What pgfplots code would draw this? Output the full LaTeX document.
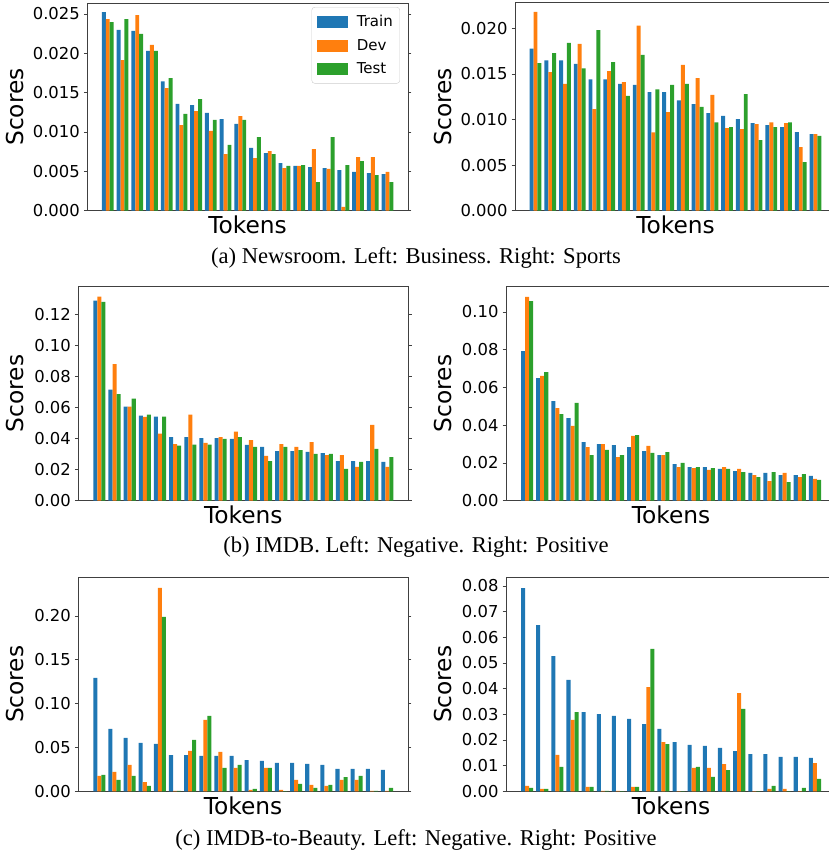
\documentclass[border=0pt]{standalone}
\usepackage{fontspec}
\setmainfont{DejaVu Sans}
\newfontfamily\capfont{Liberation Serif}
\usepackage{pgfplots}
\usepackage{pgfplotstable}
\pgfplotsset{compat=1.18}

\definecolor{tabblue}{HTML}{1F77B4}
\definecolor{taborange}{HTML}{FF7F0E}
\definecolor{tabgreen}{HTML}{2CA02C}

\newcommand\tickfont{\fontsize{16.4}{19}\selectfont}
\newcommand\labfont{\fontsize{23.3}{27}\selectfont}
\newcommand\legfont{\fontsize{15}{18}\selectfont}

% Newsroom, Business
\pgfplotstableread{
x train dev test
0 0.02525 0.02436 0.02398
1 0.02297 0.01915 0.02436
2 0.02284 0.02487 0.02246
3 0.02030 0.02106 0.02030
4 0.01644 0.01559 0.01686
5 0.01356 0.01089 0.01229
6 0.01343 0.01267 0.01419
7 0.01242 0.01013 0.01153
8 0.01165 0.00720 0.00835
9 0.01102 0.01203 0.01153
10 0.00797 0.00669 0.00936
11 0.00733 0.00758 0.00720
12 0.00606 0.00542 0.00568
13 0.00568 0.00568 0.00580
14 0.00555 0.00784 0.00364
15 0.00542 0.00530 0.00936
16 0.00517 0.00047 0.00580
17 0.00492 0.00682 0.00631
18 0.00479 0.00682 0.00453
19 0.00466 0.00492 0.00364
}\newsbus

% Newsroom, Sports
\pgfplotstableread{
x train dev test
0 0.01777 0.02180 0.01620
1 0.01650 0.01521 0.01730
2 0.01650 0.01390 0.01840
3 0.01610 0.01830 0.01560
4 0.01440 0.01115 0.01980
5 0.01440 0.01530 0.01630
6 0.01390 0.01410 0.01260
7 0.01380 0.02030 0.01710
8 0.01300 0.00860 0.01330
9 0.01300 0.01080 0.01380
10 0.01210 0.01600 0.01390
11 0.01170 0.01455 0.01140
12 0.01070 0.01270 0.00970
13 0.01040 0.00907 0.00918
14 0.01005 0.00896 0.01280
15 0.00960 0.00950 0.00775
16 0.00940 0.00970 0.00918
17 0.00918 0.00960 0.00970
18 0.00863 0.00698 0.00534
19 0.00840 0.00840 0.00820
}\newsspo

% IMDB, Negative
\pgfplotstableread{
x train dev test
0 0.1293 0.1318 0.1284
1 0.0717 0.0883 0.0689
2 0.0608 0.0608 0.0659
3 0.0549 0.0541 0.0556
4 0.0543 0.0433 0.0543
5 0.0411 0.0366 0.0355
6 0.0411 0.0556 0.0362
7 0.0405 0.0373 0.0362
8 0.0405 0.0411 0.0399
9 0.0399 0.0446 0.0411
10 0.0360 0.0392 0.0347
11 0.0347 0.0289 0.0256
12 0.0321 0.0366 0.0347
13 0.0321 0.0347 0.0327
14 0.0315 0.0379 0.0302
15 0.0308 0.0295 0.0302
16 0.0256 0.0295 0.0205
17 0.0256 0.0218 0.0250
18 0.0256 0.0489 0.0334
19 0.0250 0.0218 0.0282
}\imdbneg

% IMDB, Positive
\pgfplotstableread{
x train dev test
0 0.0793 0.1080 0.1058
1 0.0650 0.0661 0.0682
2 0.0528 0.0491 0.0459
3 0.0438 0.0396 0.0518
4 0.0311 0.0284 0.0242
5 0.0300 0.0300 0.0269
6 0.0295 0.0231 0.0242
7 0.0284 0.0343 0.0348
8 0.0263 0.0290 0.0253
9 0.0242 0.0242 0.0258
10 0.0194 0.0178 0.0200
11 0.0178 0.0173 0.0178
12 0.0178 0.0163 0.0173
13 0.0168 0.0178 0.0168
14 0.0157 0.0168 0.0152
15 0.0147 0.0136 0.0125
16 0.0147 0.0104 0.0152
17 0.0136 0.0147 0.0099
18 0.0136 0.0125 0.0141
19 0.0131 0.0115 0.0110
}\imdbpos

% IMDB-to-Beauty, Negative
\pgfplotstableread{
x train dev test
0 0.1293 0.0175 0.0186
1 0.0711 0.0221 0.0129
2 0.0608 0.0300 0.0175
3 0.0551 0.0106 0.0061
4 0.0540 0.2320 0.1989
5 0.0414 0.0005 0.0005
6 0.0414 0.0460 0.0586
7 0.0403 0.0814 0.0859
8 0.0403 0.0449 0.0266
9 0.0403 0.0266 0.0300
10 0.0357 0.0015 0.0027
11 0.0346 0.0266 0.0266
12 0.0323 0.0015 0.0003
13 0.0323 0.0129 0.0084
14 0.0312 0.0072 0.0038
15 0.0300 0.0061 0.0072
16 0.0255 0.0129 0.0163
17 0.0255 0.0129 0.0175
18 0.0255 0.0005 0.0005
19 0.0243 0.0005 0.0038
}\beauneg

% IMDB-to-Beauty, Positive
\pgfplotstableread{
x train dev test
0 0.0792 0.0021 0.0013
1 0.0648 0.0009 0.0009
2 0.0527 0.0142 0.0095
3 0.0434 0.0278 0.0309
4 0.0309 0.0017 0.0017
5 0.0301 0.0002 0.0002
6 0.0294 0.0002 0.0001
7 0.0282 0.0017 0.0017
8 0.0262 0.0406 0.0555
9 0.0243 0.0192 0.0184
10 0.0192 0.0001 0.0001
11 0.0181 0.0091 0.0095
12 0.0177 0.0091 0.0056
13 0.0169 0.0106 0.0083
14 0.0157 0.0383 0.0321
15 0.0145 0.0001 0.0001
16 0.0145 0.0009 0.0021
17 0.0134 0.0009 0.0001
18 0.0134 0.0001 0.0013
19 0.0130 0.0110 0.0048
}\beaupos

\pgfplotsset{
  tok/.style={
    scale only axis, ybar, bar width=0.2667,
    xmin=-1.39, xmax=20.39, ymin=0,
    xtick=\empty, scaled y ticks=false,
    axis line style={black!75, line width=0.9pt},
    tick align=outside, major tick length=3.4pt,
    ytick style={black!75, line width=0.9pt},
    /pgf/number format/assume math mode=true,
    yticklabel style={font=\tickfont, inner sep=0pt, xshift=-3.9pt,
      /pgf/number format/fixed, /pgf/number format/fixed zerofill,
      /pgf/number format/precision=#1},
    xlabel=Tokens, ylabel=Scores, label style={font=\labfont},
    xlabel style={at={(axis description cs:0.5,0)}, anchor=north,
      inner sep=0pt, yshift=-5.3pt},
    ylabel style={at={(axis description cs:0,0.5)}, anchor=south,
      inner sep=0pt},
  },
  trn/.style={fill=tabblue, draw=none, bar shift=-0.2667},
  dv/.style={fill=taborange, draw=none, bar shift=0},
  tst/.style={fill=tabgreen, draw=none, bar shift=0.2667},
}

\begin{document}
\begin{tikzpicture}
\useasboundingbox (0pt,0pt) rectangle (829pt,856pt);

% (a) left
\begin{axis}[tok=3, at={(87.3pt,645.3pt)}, anchor=south west,
  width=320.7pt, height=207.4pt, ymax=0.02636,
  ytick={0,0.005,0.010,0.015,0.020,0.025},
  ylabel style={yshift=63.3pt},
  legend style={at={(0.975,0.982)}, anchor=north east, draw=black!20,
    rounded corners=3pt, font=\legfont, row sep=7.2pt, column sep=7pt,
    inner xsep=5pt, inner ysep=6pt},
  legend cell align=left,
  legend image code/.code={\fill[#1, sharp corners] (0pt,-6pt) rectangle (31pt,6pt);}]
\addplot[trn] table[x=x, y=train] {\newsbus};
\addplot[dv] table[x=x, y=dev] {\newsbus};
\addplot[tst] table[x=x, y=test] {\newsbus};
\legend{Train, Dev, Test}
\end{axis}

% (a) right
\begin{axis}[tok=3, at={(515pt,645.3pt)}, anchor=south west,
  width=321pt, height=208pt, ymax=0.02282,
  ytick={0,0.005,0.010,0.015,0.020},
  ylabel style={yshift=63.3pt}]
\addplot[trn] table[x=x, y=train] {\newsspo};
\addplot[dv] table[x=x, y=dev] {\newsspo};
\addplot[tst] table[x=x, y=test] {\newsspo};
\end{axis}

% (b) left
\begin{axis}[tok=2, at={(78.3pt,355.3pt)}, anchor=south west,
  width=330.2pt, height=214.7pt, ymax=0.1387,
  ytick={0,0.02,0.04,0.06,0.08,0.10,0.12},
  ylabel style={yshift=54.3pt}]
\addplot[trn] table[x=x, y=train] {\imdbneg};
\addplot[dv] table[x=x, y=dev] {\imdbneg};
\addplot[tst] table[x=x, y=test] {\imdbneg};
\end{axis}

% (b) right
\begin{axis}[tok=2, at={(506pt,355.3pt)}, anchor=south west,
  width=330pt, height=214.7pt, ymax=0.1138,
  ytick={0,0.02,0.04,0.06,0.08,0.10},
  ylabel style={yshift=54.3pt}]
\addplot[trn] table[x=x, y=train] {\imdbpos};
\addplot[dv] table[x=x, y=dev] {\imdbpos};
\addplot[tst] table[x=x, y=test] {\imdbpos};
\end{axis}

% (c) left
\begin{axis}[tok=2, at={(78.3pt,64.7pt)}, anchor=south west,
  width=329.7pt, height=214pt, ymax=0.2441,
  ytick={0,0.05,0.10,0.15,0.20},
  ylabel style={yshift=54.3pt}]
\addplot[trn] table[x=x, y=train] {\beauneg};
\addplot[dv] table[x=x, y=dev] {\beauneg};
\addplot[tst] table[x=x, y=test] {\beauneg};
\end{axis}

% (c) right
\begin{axis}[tok=2, at={(506pt,64.7pt)}, anchor=south west,
  width=330pt, height=214pt, ymax=0.0834,
  ytick={0,0.01,0.02,0.03,0.04,0.05,0.06,0.07,0.08},
  ylabel style={yshift=54.3pt}]
\addplot[trn] table[x=x, y=train] {\beaupos};
\addplot[dv] table[x=x, y=dev] {\beaupos};
\addplot[tst] table[x=x, y=test] {\beaupos};
\end{axis}

% sub-captions
\node[font={\capfont\fontsize{22.6}{26}\selectfont}] at (416pt,598pt)
  {(a) Newsroom. Left: Business. Right: Sports};
\node[font={\capfont\fontsize{22.6}{26}\selectfont}] at (416pt,309pt)
  {(b) IMDB. Left: Negative. Right: Positive};
\node[font={\capfont\fontsize{22.6}{26}\selectfont}] at (416pt,16pt)
  {(c) IMDB-to-Beauty. Left: Negative. Right: Positive};
\end{tikzpicture}
\end{document}
